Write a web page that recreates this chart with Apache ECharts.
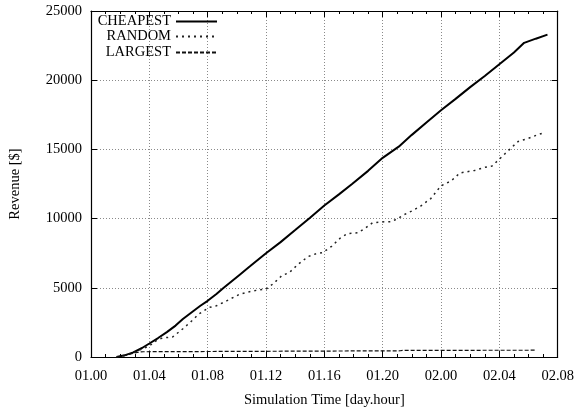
<!DOCTYPE html>
<html>
<head>
<meta charset="utf-8">
<script src="https://cdn.jsdelivr.net/npm/echarts@6/dist/echarts.min.js"></script>
<style>
  html, body { margin: 0; padding: 0; background: #fff; }
  #chart { width: 577px; height: 413px; }
</style>
</head>
<body>
<div id="chart"></div>
<script>
// Hours since day 01, hour 00, and accumulated revenue in dollars
const cheapestHours = [1.75, 2.3, 2.9, 3.5, 4.0, 4.6, 5.2, 5.8, 6.3, 7.0, 7.5, 8.0, 8.6, 9.1, 10.2, 10.9, 12.0, 13.0, 14.0, 15.0, 16.0, 17.0, 17.9, 19.0, 20.0, 21.1, 22.0, 23.0, 24.0, 25.0, 26.0, 27.0, 28.0, 29.0, 29.7, 30.5, 31.3];
const cheapestRevenue = [0, 120, 335, 650, 975, 1370, 1800, 2270, 2750, 3310, 3700, 4060, 4550, 5000, 5950, 6550, 7500, 8300, 9170, 10050, 10950, 11750, 12500, 13450, 14390, 15200, 16050, 16950, 17830, 18650, 19500, 20300, 21150, 22000, 22700, 23000, 23290];

const randomHours = [1.75, 2.3, 2.9, 3.5, 4.0, 4.5, 4.9, 5.6, 6.3, 6.9, 7.4, 8.1, 8.6, 9.3, 10.2, 10.8, 11.5, 12.0, 12.5, 13.1, 13.6, 14.2, 14.9, 15.4, 15.9, 16.5, 17.1, 17.6, 18.3, 18.8, 19.3, 19.9, 20.6, 21.0, 21.5, 22.0, 22.6, 23.3, 24.0, 24.7, 25.3, 26.3, 27.0, 27.5, 28.1, 28.8, 29.3, 30.0, 30.6, 31.1];
const randomRevenue = [0, 110, 300, 580, 800, 1200, 1375, 1450, 2040, 2600, 3110, 3580, 3700, 4060, 4540, 4700, 4850, 4900, 5300, 5890, 6100, 6700, 7260, 7450, 7550, 8000, 8600, 8920, 8980, 9300, 9700, 9760, 9780, 9990, 10300, 10550, 10900, 11450, 12370, 12730, 13300, 13480, 13700, 13800, 14400, 15100, 15580, 15800, 16050, 16220];

const largestHours = [1.8, 2.3, 2.8, 3.3, 3.6, 6.3, 6.4, 21.2, 21.4, 30.5];
const largestRevenue = [0, 100, 240, 360, 380, 390, 440, 450, 480, 490];

const seriesNames = ['CHEAPEST', 'RANDOM', 'LARGEST'];

// Tick positions: every 4 hours from 01.00 to 02.08
const xMin = 0, xMax = 32, xStep = 4;
const yMin = 0, yMax = 25000, yStep = 5000;

const FONT = '"Liberation Serif", "DejaVu Serif", serif';
const FS = 14.5;

function pair(xs, ys) { return xs.map((x, i) => [x, ys[i]]); }
function pad2(n) { return (n < 10 ? '0' : '') + n; }
function dayHour(h) {
  const day = 1 + Math.floor(h / 24);
  const hr = h % 24;
  return pad2(day) + '.' + pad2(hr);
}

const chart = echarts.init(document.getElementById('chart'), null, { renderer: 'canvas' });

const gridLine = { show: true, lineStyle: { color: '#8a8a8a', width: 1, type: [1, 2] } };
const axisLine = { show: true, onZero: false, lineStyle: { color: '#000', width: 1.2 } };
const tick = { show: true, inside: true, length: 6, lineStyle: { color: '#000', width: 1 } };
const labelStyle = { color: '#000', fontFamily: FONT, fontSize: FS };

// One legend block per series so the samples line up on the right of right-aligned names
const legendTops = [14, 29, 45];
const legends = seriesNames.map((name, i) => ({
  data: [name],
  orient: 'vertical',
  align: 'right',
  right: 359,
  top: legendTops[i],
  padding: 0,
  itemWidth: 41,
  itemHeight: 14,
  selectedMode: false,
  itemStyle: { opacity: 0 },
  textStyle: { color: '#000', fontFamily: FONT, fontSize: FS }
}));

chart.setOption({
  animation: false,
  backgroundColor: '#fff',
  grid: { left: 91, right: 17, top: 11, bottom: 50 },
  legend: legends,
  xAxis: [
    {
      type: 'value', min: xMin, max: xMax, interval: xStep, position: 'bottom',
      axisLine: axisLine,
      axisTick: tick,
      minorTick: { show: true, splitNumber: 4, length: 3, lineStyle: { color: '#000', width: 1 } },
      splitLine: gridLine,
      axisLabel: Object.assign({ margin: 12, formatter: v => dayHour(v) }, labelStyle),
      name: 'Simulation Time [day.hour]', nameLocation: 'middle', nameGap: 36,
      nameTextStyle: labelStyle
    },
    {
      type: 'value', min: xMin, max: xMax, interval: xStep, position: 'top',
      axisLine: axisLine,
      axisTick: tick,
      minorTick: { show: true, splitNumber: 4, length: 3, lineStyle: { color: '#000', width: 1 } },
      splitLine: { show: false },
      axisLabel: { show: false }
    }
  ],
  yAxis: [
    {
      type: 'value', min: yMin, max: yMax, interval: yStep, position: 'left',
      axisLine: axisLine,
      axisTick: tick,
      splitLine: gridLine,
      axisLabel: Object.assign({ margin: 9, padding: [0, 0, 6, 0], formatter: v => String(v) }, labelStyle),
      name: 'Revenue [$]', nameLocation: 'middle', nameGap: 68, nameRotate: 90,
      nameTextStyle: labelStyle
    },
    {
      type: 'value', min: yMin, max: yMax, interval: yStep, position: 'right',
      axisLine: axisLine,
      axisTick: tick,
      splitLine: { show: false },
      axisLabel: { show: false }
    }
  ],
  series: [
    {
      name: seriesNames[0], type: 'line', symbol: 'none', showSymbol: false,
      data: pair(cheapestHours, cheapestRevenue),
      lineStyle: { color: '#000', width: 2, type: 'solid' },
      itemStyle: { color: '#000' }
    },
    {
      name: seriesNames[1], type: 'line', symbol: 'none', showSymbol: false,
      data: pair(randomHours, randomRevenue),
      lineStyle: { color: '#222', width: 1.5, type: [2, 4] },
      itemStyle: { color: '#222' }
    },
    {
      name: seriesNames[2], type: 'line', symbol: 'none', showSymbol: false,
      data: pair(largestHours, largestRevenue),
      lineStyle: { color: '#111', width: 1.2, type: [4, 2] },
      itemStyle: { color: '#111' }
    }
  ]
});
</script>
</body>
</html>
